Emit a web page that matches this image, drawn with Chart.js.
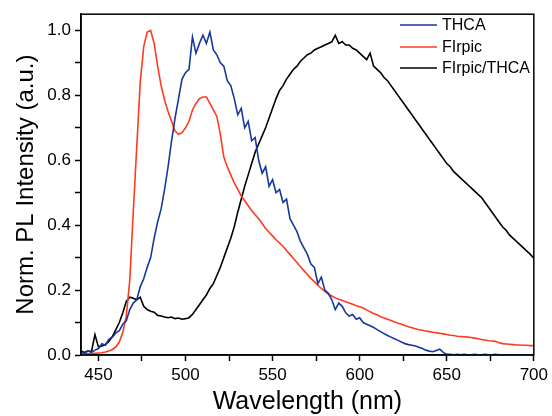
<!DOCTYPE html>
<html>
<head>
<meta charset="UTF-8">
<script src="https://cdn.jsdelivr.net/npm/chart.js@4.4.0/dist/chart.umd.min.js"></script>
<style>
  html, body { margin: 0; padding: 0; background: #fff; }
  canvas { display: block; }
</style>
</head>
<body>
<canvas id="c" width="552" height="416"></canvas>
<script>
// wavelength grid (nm), 2 nm step
const wavelength = [
  440, 442, 444, 446, 448, 450, 452, 454, 456, 458, 460, 462, 464, 466, 468, 470, 472, 474, 476, 478,
  480, 482, 484, 486, 488, 490, 492, 494, 496, 498, 500, 502, 504, 506, 508, 510, 512, 514, 516, 518,
  520, 522, 524, 526, 528, 530, 532, 534, 536, 538, 540, 542, 544, 546, 548, 550, 552, 554, 556, 558,
  560, 562, 564, 566, 568, 570, 572, 574, 576, 578, 580, 582, 584, 586, 588, 590, 592, 594, 596, 598,
  600, 602, 604, 606, 608, 610, 612, 614, 616, 618, 620, 622, 624, 626, 628, 630, 632, 634, 636, 638,
  640, 642, 644, 646, 648, 650, 652, 654, 656, 658, 660, 662, 664, 666, 668, 670, 672, 674, 676, 678,
  680, 682, 684, 686, 688, 690, 692, 694, 696, 698, 700
];

const thca = [
  0.010, 0.005, 0.012, 0.008, 0.015, 0.020, 0.035, 0.030, 0.048, 0.055, 0.068, 0.075, 0.095, 0.105, 0.140, 0.160, 0.170, 0.210, 0.235, 0.270,
  0.300, 0.360, 0.410, 0.450, 0.510, 0.580, 0.660, 0.730, 0.790, 0.850, 0.870, 0.880, 0.980, 0.930, 0.960, 0.985, 0.960, 0.995, 0.940, 0.925,
  0.900, 0.890, 0.845, 0.830, 0.790, 0.740, 0.760, 0.700, 0.720, 0.660, 0.670, 0.600, 0.560, 0.580, 0.520, 0.540, 0.500, 0.510, 0.470, 0.480,
  0.420, 0.400, 0.380, 0.350, 0.330, 0.310, 0.280, 0.270, 0.220, 0.240, 0.200, 0.190, 0.170, 0.140, 0.160, 0.150, 0.130, 0.120, 0.125, 0.110,
  0.115, 0.100, 0.095, 0.090, 0.085, 0.078, 0.072, 0.066, 0.060, 0.055, 0.050, 0.045, 0.040, 0.035, 0.032, 0.030, 0.028, 0.024, 0.020, 0.015,
  0.012, 0.010, 0.014, 0.018, 0.008, 0.002, 0.002, 0.001, 0.002, 0.001, 0.002, 0.001, 0.001, 0.002, 0.001, 0.001, 0.002, 0.001, 0.001, 0.002,
  0.001, 0.001, 0.001, 0.001, 0.001, 0.001, 0.001, 0.001, 0.001, 0.001, 0.001
];

const firpic = [
  0.003, 0.003, 0.004, 0.004, 0.005, 0.006, 0.007, 0.009, 0.012, 0.017, 0.025, 0.040, 0.070, 0.120, 0.230, 0.440, 0.640, 0.840, 0.950, 0.995,
  1.000, 0.960, 0.890, 0.830, 0.785, 0.750, 0.720, 0.690, 0.680, 0.685, 0.700, 0.720, 0.755, 0.775, 0.790, 0.795, 0.795, 0.775, 0.755, 0.735,
  0.680, 0.610, 0.580, 0.555, 0.530, 0.510, 0.490, 0.475, 0.460, 0.445, 0.432, 0.420, 0.405, 0.390, 0.378, 0.367, 0.355, 0.345, 0.335, 0.322,
  0.310, 0.297, 0.285, 0.272, 0.260, 0.248, 0.236, 0.226, 0.215, 0.205, 0.196, 0.188, 0.182, 0.176, 0.172, 0.168, 0.164, 0.160, 0.156, 0.152,
  0.149, 0.145, 0.139, 0.133, 0.128, 0.124, 0.118, 0.114, 0.110, 0.106, 0.102, 0.098, 0.095, 0.091, 0.087, 0.084, 0.081, 0.078, 0.076, 0.074,
  0.072, 0.070, 0.069, 0.067, 0.065, 0.063, 0.061, 0.060, 0.058, 0.057, 0.056, 0.055, 0.054, 0.052, 0.050, 0.048, 0.046, 0.044, 0.043, 0.042,
  0.038, 0.035, 0.034, 0.033, 0.032, 0.031, 0.031, 0.030, 0.030, 0.029, 0.029
];

const firpicThca = [
  0.012, 0.008, 0.013, 0.010, 0.063, 0.025, 0.028, 0.032, 0.042, 0.057, 0.078, 0.100, 0.130, 0.165, 0.178, 0.175, 0.170, 0.178, 0.150, 0.140,
  0.135, 0.132, 0.122, 0.120, 0.117, 0.115, 0.117, 0.112, 0.114, 0.110, 0.112, 0.115, 0.125, 0.140, 0.155, 0.170, 0.185, 0.205, 0.220, 0.245,
  0.270, 0.300, 0.330, 0.360, 0.395, 0.440, 0.480, 0.520, 0.555, 0.590, 0.625, 0.650, 0.675, 0.700, 0.730, 0.760, 0.790, 0.815, 0.830, 0.850,
  0.865, 0.880, 0.890, 0.905, 0.915, 0.925, 0.930, 0.940, 0.945, 0.950, 0.955, 0.960, 0.965, 0.985, 0.960, 0.965, 0.955, 0.955, 0.945, 0.940,
  0.930, 0.920, 0.910, 0.930, 0.890, 0.880, 0.870, 0.855, 0.845, 0.830, 0.815, 0.800, 0.785, 0.770, 0.755, 0.740, 0.725, 0.710, 0.695, 0.680,
  0.665, 0.650, 0.635, 0.620, 0.605, 0.590, 0.580, 0.565, 0.555, 0.545, 0.535, 0.525, 0.515, 0.505, 0.495, 0.485, 0.470, 0.455, 0.440, 0.425,
  0.410, 0.395, 0.385, 0.370, 0.360, 0.350, 0.340, 0.330, 0.320, 0.310, 0.298
];

const seriesNames = ["THCA", "FIrpic", "FIrpic/THCA"];
const seriesColors = ["#15389a", "#ff3a1e", "#000000"];

const FONT = "'Liberation Sans', Arial, sans-serif";
const toXY = (ys) => ys.map((y, i) => ({ x: wavelength[i], y }));

// frame around the plot + legend inside the plot area (top right)
const framePlugin = {
  id: "frame",
  afterDraw(chart) {
    const { ctx, chartArea: a } = chart;
    ctx.save();
    ctx.strokeStyle = "#000";
    ctx.lineWidth = 1.5;
    ctx.strokeRect(a.left, a.top, a.right - a.left, a.bottom - a.top);

    ctx.font = "16px " + FONT;
    ctx.textBaseline = "middle";
    ctx.textAlign = "left";
    const rows = [25, 47, 68];
    chart.data.datasets.forEach((ds, i) => {
      ctx.strokeStyle = ds.borderColor;
      ctx.lineWidth = 1.6;
      ctx.beginPath();
      ctx.moveTo(400, rows[i]);
      ctx.lineTo(437, rows[i]);
      ctx.stroke();
      ctx.fillStyle = "#000";
      ctx.fillText(ds.label, 442, rows[i] + 1);
    });
    ctx.restore();
  }
};

new Chart(document.getElementById("c"), {
  type: "line",
  data: {
    datasets: [thca, firpic, firpicThca].map((ys, i) => ({
      label: seriesNames[i],
      data: toXY(ys),
      borderColor: seriesColors[i],
      borderWidth: 1.6,
      pointRadius: 0,
      tension: 0,
      fill: false,
    })),
  },
  options: {
    responsive: false,
    animation: false,
    devicePixelRatio: 1,
    layout: { padding: { top: 14, right: 15, left: 0, bottom: 0 } },
    plugins: { legend: { display: false }, tooltip: { enabled: false } },
    scales: {
      x: {
        type: "linear",
        min: 440,
        max: 700,
        afterFit: (s) => { s.height = 61; },
        grid: { display: true, drawOnChartArea: false, drawTicks: true, tickLength: 6, tickWidth: 1.5, tickColor: "#000" },
        border: { display: true, color: "#000", width: 1.5 },
        ticks: {
          stepSize: 25,
          includeBounds: false,
          autoSkip: false,
          maxRotation: 0,
          padding: 4,
          color: "#000",
          font: { family: FONT, size: 17 },
          callback: (v) => (v % 50 === 0 ? String(v) : ""),
        },
        title: {
          display: true,
          text: "Wavelength (nm)",
          color: "#000",
          font: { family: FONT, size: 25, lineHeight: 1 },
          padding: { top: 0, bottom: 1 },
        },
      },
      y: {
        min: 0,
        max: 1.05,
        afterFit: (s) => { s.width = 81; },
        grid: { display: true, drawOnChartArea: false, drawTicks: true, tickLength: 6, tickWidth: 1.5, tickColor: "#000" },
        border: { display: true, color: "#000", width: 1.5 },
        ticks: {
          stepSize: 0.1,
          includeBounds: false,
          autoSkip: false,
          padding: 4,
          color: "#000",
          font: { family: FONT, size: 17 },
          callback: (v) => (Math.round(v * 10) % 2 === 0 ? v.toFixed(1) : ""),
        },
        title: {
          display: true,
          text: "Norm. PL Intensity (a.u.)",
          color: "#000",
          font: { family: FONT, size: 24, lineHeight: 1 },
          padding: { top: 14, bottom: 0 },
        },
      },
    },
  },
  plugins: [framePlugin],
});
</script>
</body>
</html>
